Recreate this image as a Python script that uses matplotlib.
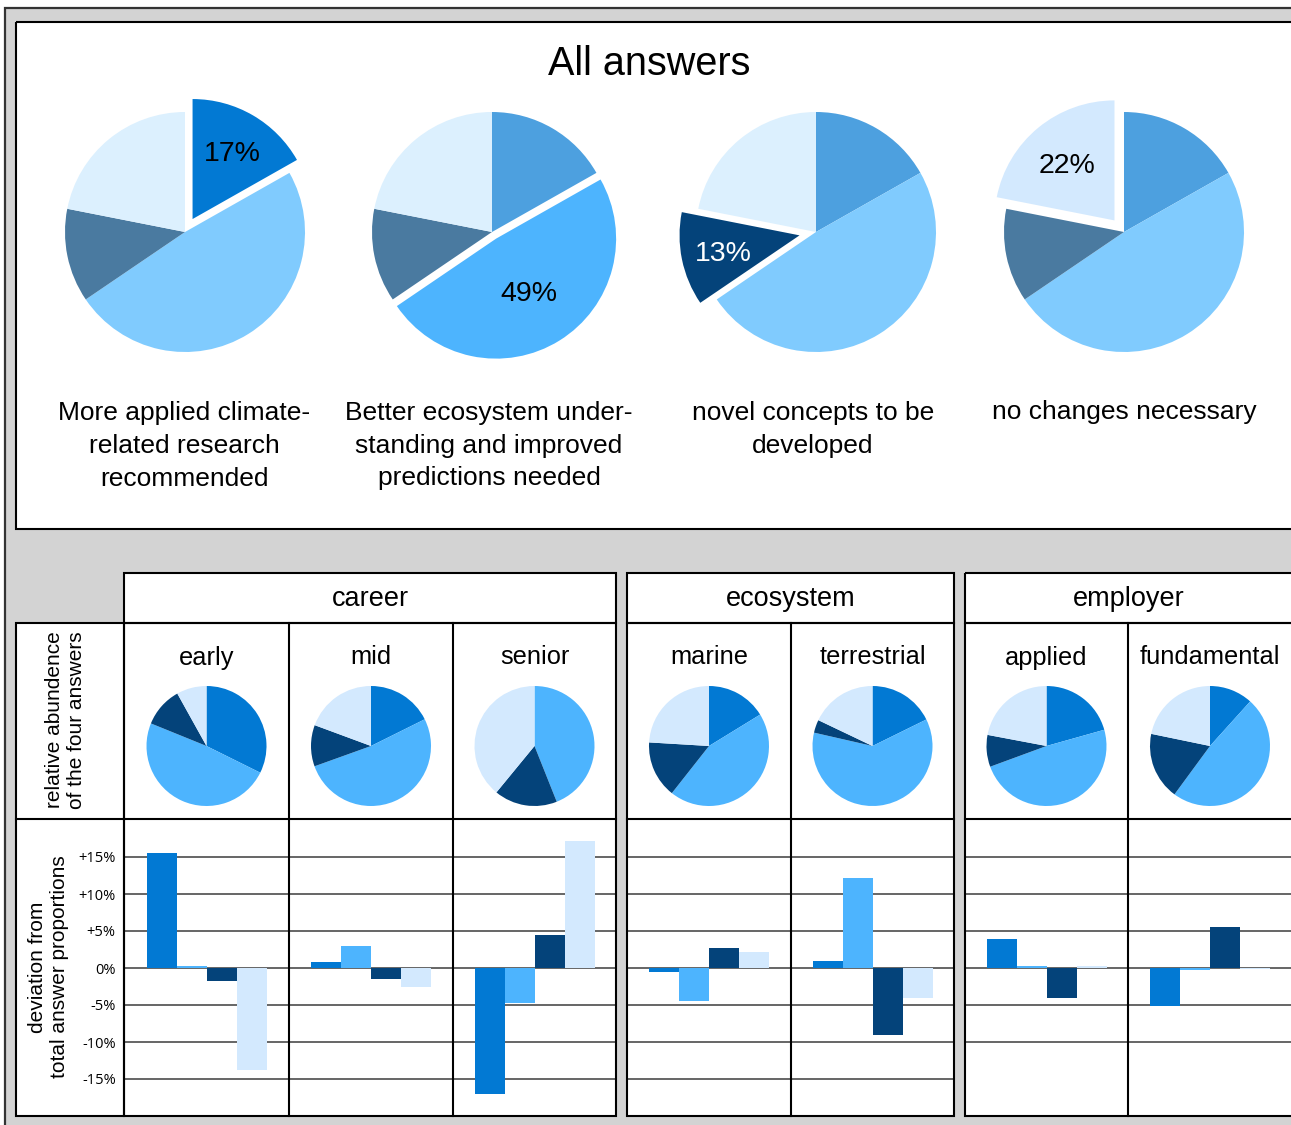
import matplotlib
matplotlib.use('Agg')
import matplotlib.pyplot as plt
from matplotlib.patches import Rectangle
import numpy as np

plt.rcParams['font.family'] = ['Liberation Sans', 'DejaVu Sans']

W, H = 1291, 1125

# ---------------- data ----------------
title = "All answers"
answers = ["More applied climate-\nrelated research\nrecommended",
           "Better ecosystem under-\nstanding and improved\npredictions needed",
           "novel concepts to be\ndeveloped",
           "no changes necessary"]
overall = [16.8, 48.7, 12.6, 21.9]

groups = ["career", "ecosystem", "employer"]
subgroups = ["early", "mid", "senior", "marine", "terrestrial", "applied", "fundamental"]
subgroup_of = [0, 0, 0, 1, 1, 2, 2]

share_early = [32.4, 48.9, 10.8, 8.1]
share_mid = [17.6, 51.7, 11.1, 19.3]
share_senior = [0.0, 44.0, 17.0, 39.1]
share_marine = [16.2, 44.3, 15.3, 24.0]
share_terrestrial = [17.7, 60.8, 3.5, 17.9]
share_applied = [20.7, 48.9, 8.6, 22.1]
share_fundamental = [11.7, 48.5, 18.2, 21.8]
shares = [share_early, share_mid, share_senior, share_marine,
          share_terrestrial, share_applied, share_fundamental]

dev_early = [15.6, 0.3, -1.8, -13.8]
dev_mid = [0.8, 3.0, -1.5, -2.6]
dev_senior = [-17.0, -4.7, 4.4, 17.2]
dev_marine = [-0.6, -4.4, 2.7, 2.1]
dev_terrestrial = [0.9, 12.1, -9.1, -4.0]
dev_applied = [3.9, 0.3, -4.0, 0.3]
dev_fundamental = [-5.1, -0.3, 5.6, -0.2]
devs = [dev_early, dev_mid, dev_senior, dev_marine,
        dev_terrestrial, dev_applied, dev_fundamental]

ytick_vals = [15, 10, 5, 0, -5, -10, -15]
ytick_labels = ["+15%", "+10%", "+5%", "0%", "-5%", "-10%", "-15%"]
grid_levels = [[15, 10, 5, 0, -5, -10, -15],
               [15, 10, 5, 0, -5, -10, -15],
               [15, 10, 5, 0, -5, -10]]

row_label_top = "relative abundence\nof the four answers"
row_label_bottom = "deviation from\ntotal answer proportions"

# ---------------- style ----------------
base_colors = ['#4da0df', '#80cbfe', '#4a7aa0', '#dcf0fe']
hi_colors = ['#0279d3', '#4db4fe', '#04437a', '#d3e9fe']
pct_colors = ['black', 'black', 'white', 'black']

fig = plt.figure(figsize=(W / 100, H / 100), dpi=100)
fig.patch.set_facecolor('white')


def frect(x0, y0, x1, y1):
    return [x0 / W, 1 - y1 / H, (x1 - x0) / W, (y1 - y0) / H]


bg = fig.add_axes([0, 0, 1, 1], zorder=0)
bg.set_xlim(0, W); bg.set_ylim(H, 0); bg.axis('off')
bg.add_patch(Rectangle((5, 8), W + 30, H + 30, fc='#d3d3d3', ec='#333333', lw=1.6))

top_box = (16, 22, 1310, 529)
hdr_boxes = [(124, 573, 616, 623), (627, 573, 954, 623), (965, 573, 1310, 623)]
grid_boxes = [(124, 623, 616, 1116), (627, 623, 954, 1116), (965, 623, 1310, 1116)]
label_box = (16, 623, 124, 1116)
ROW_SPLIT = 819
col_left = [124, 289, 453, 627, 791, 965, 1128]
col_right = [289, 453, 616, 791, 954, 1128, 1292]

for (x0, y0, x1, y1) in [top_box, label_box] + hdr_boxes + grid_boxes:
    bg.add_patch(Rectangle((x0, y0), x1 - x0, y1 - y0, fc='white', ec='none'))

ov = fig.add_axes([0, 0, 1, 1], zorder=5)
ov.set_xlim(0, W); ov.set_ylim(H, 0); ov.axis('off'); ov.patch.set_alpha(0)
LW = 1.5
for (x0, y0, x1, y1) in [top_box, label_box] + hdr_boxes + grid_boxes:
    ov.add_patch(Rectangle((x0, y0), x1 - x0, y1 - y0, fill=False, ec='black', lw=LW))
for (x0, y0, x1, y1) in [label_box] + grid_boxes:
    ov.plot([x0, x1], [ROW_SPLIT, ROW_SPLIT], color='black', lw=LW)
for x in [289, 453, 791, 1128]:
    ov.plot([x, x], [623, 1116], color='black', lw=LW)

# title
ov.text(649, 75, title, ha='center', va='baseline', fontsize=28.5)

# ---------------- top pies ----------------
top_cx = [185, 492, 816, 1124]
TOP_CY, TOP_R = 232, 120
expl_amt = [0.125, 0.065, 0.14, 0.125]
pct_r = [0.66, 0.51, 0.65, 0.62]
label_x = [184, 489, 813, 1124]
LINE_PX = 33
total = sum(overall)
for i in range(4):
    cx = top_cx[i]
    s = 1.35
    ax = fig.add_axes(frect(cx - s * TOP_R, TOP_CY - s * TOP_R, cx + s * TOP_R, TOP_CY + s * TOP_R), zorder=2)
    cols = [hi_colors[j] if j == i else base_colors[j] for j in range(4)]
    expl = [expl_amt[i] if j == i else 0 for j in range(4)]
    ax.pie(overall, colors=cols, explode=expl, startangle=90, counterclock=False,
           radius=1, wedgeprops=dict(linewidth=0))
    ax.set_xlim(-s, s); ax.set_ylim(-s, s); ax.set_aspect('equal'); ax.axis('off')
    before = sum(overall[:i])
    th = np.deg2rad(90 - 360 * (before + overall[i] / 2) / total)
    d = expl_amt[i] + pct_r[i]
    ax.text(d * np.cos(th), d * np.sin(th), f"{round(overall[i])}%", ha='center',
            va='center_baseline', fontsize=20.5, color=pct_colors[i])
    nlines = answers[i].count("\n")
    ov.text(label_x[i], 419.5 + LINE_PX * nlines, answers[i], ha='center', va='baseline',
            fontsize=19, linespacing=1.47, multialignment='center')

# ---------------- group headers ----------------
for g, (x0, y0, x1, y1) in enumerate(hdr_boxes):
    xr = min(x1, 1292)
    ov.text((x0 + xr) / 2, 606, groups[g], ha='center', va='baseline', fontsize=19.5)

# row labels
ov.text(66, 720, row_label_top, rotation=90, ha='center', va='center', fontsize=15,
        multialignment='center', linespacing=1.2)
ov.text(48.5, 967, row_label_bottom, rotation=90, ha='center', va='center', fontsize=15,
        multialignment='center', linespacing=1.2)

# ---------------- subgroup pies and bars ----------------
BOT_CY, BOT_R = 746, 60
ZERO_Y, PX_PER_PCT = 968, 7.4
BAR_PX = 30
for k, name in enumerate(subgroups):
    xl, xr = col_left[k], col_right[k]
    cx = (xl + xr) / 2
    ov.text(cx, 664.5, name, ha='center', va='baseline', fontsize=18.3)
    s = 1.15
    ax = fig.add_axes(frect(cx - s * BOT_R, BOT_CY - s * BOT_R, cx + s * BOT_R, BOT_CY + s * BOT_R), zorder=2)
    ax.pie(shares[k], colors=hi_colors, startangle=90, counterclock=False, radius=1,
           wedgeprops=dict(linewidth=0))
    ax.set_xlim(-s, s); ax.set_ylim(-s, s); ax.set_aspect('equal'); ax.axis('off')

    bx = fig.add_axes(frect(xl, ROW_SPLIT, xr, 1116), zorder=2)
    bx.patch.set_alpha(0)
    hw = (xr - xl) / 2 / BAR_PX
    bx.set_xlim(1.5 - hw, 1.5 + hw)
    bx.set_ylim(-(1116 - ZERO_Y) / PX_PER_PCT, (ZERO_Y - ROW_SPLIT) / PX_PER_PCT)
    for v in grid_levels[subgroup_of[k]]:
        bx.axhline(v, color='#3c3c3c', lw=1.1, zorder=1)
    bx.bar(range(4), devs[k], width=1.0, color=hi_colors, zorder=2, linewidth=0)
    for sp in bx.spines.values():
        sp.set_visible(False)
    bx.set_xticks([])
    if k == 0:
        bx.set_yticks(ytick_vals)
        bx.set_yticklabels(ytick_labels, fontsize=10.5, family=['Open Sans', 'DejaVu Sans'])
        bx.tick_params(axis='y', length=0, pad=6)
    else:
        bx.set_yticks([])

fig.savefig('out.png', dpi=100)
